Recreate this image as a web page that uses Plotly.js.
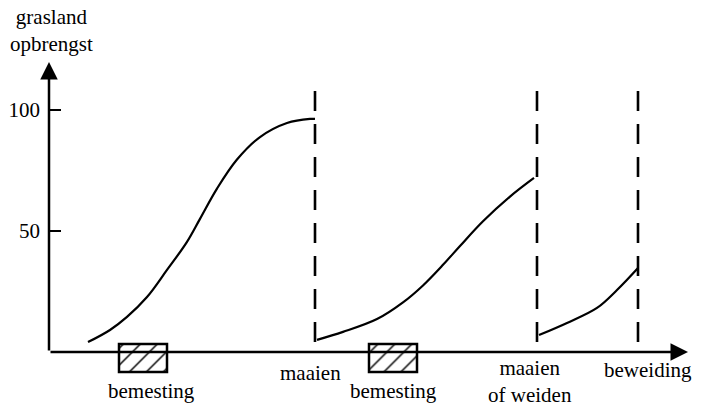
<!DOCTYPE html>
<html><head><meta charset="utf-8">
<script src="https://cdn.plot.ly/plotly-3.0.1.min.js"></script>
<style>html,body{margin:0;padding:0;background:#fff}#chart{width:701px;height:407px}</style>
</head><body><div id="chart"></div>
<script>
// x = time (arbitrary units), y = relative grassland yield
const growth1X = [3.9, 6.1, 7.8, 9.8, 11.8, 13.8, 15.1, 16.8, 18.8, 21.1, 23.8, 26.1, 26.6];
const growth1Y = [4.1, 9.1, 14.5, 22.7, 33.9, 45.5, 55.0, 67.5, 79.5, 88.8, 94.6, 96.3, 96.3];
const growth2X = [26.8, 29.4, 32.8, 35.4, 37.4, 39.4, 41.1, 43.4, 46.1, 48.5];
const growth2Y = [5.0, 8.3, 13.6, 20.5, 27.5, 36.0, 43.8, 54.0, 64.2, 71.9];
const growth3X = [49.0, 51.8, 54.8, 56.8, 58.9];
const growth3Y = [7.0, 12.0, 18.2, 25.6, 34.7];
const eventX = [26.6, 48.8, 58.9];
const eventLabels = ['maaien', 'maaien<br>of weiden', 'beweiding'];
const fertX = [9.4, 34.4];
const fertLabel = 'bemesting';
const yTicks = [50, 100];
const yTickLabels = ['50', '100'];
const yTitle = 'grasland<br>opbrengst';

const FONT = {family: 'Liberation Serif, serif', size: 21, color: '#000'};
const traces = [];
[[growth1X, growth1Y], [growth2X, growth2Y], [growth3X, growth3Y]].forEach(([x, y]) => {
  traces.push({x, y, type: 'scatter', mode: 'lines', line: {color: '#000', width: 2.2, shape: 'spline', smoothing: 1}, hoverinfo: 'skip', showlegend: false});
});
eventX.forEach(ex => {
  traces.push({x: [ex, ex], y: [4.1, 110.3], type: 'scatter', mode: 'lines', line: {color: '#000', width: 2.6, dash: '20px,13px'}, hoverinfo: 'skip', showlegend: false});
});
traces.push({
  x: fertX, y: fertX.map(() => 11.6), base: -8.3, width: 4.8, type: 'bar',
  marker: {color: '#fff', line: {color: '#000', width: 2.5},
    pattern: {shape: '/', fgcolor: '#000', bgcolor: '#fff', size: 12, solidity: 0.12}},
  hoverinfo: 'skip', showlegend: false
});

const ann = [];
// axes with arrows
ann.push({x: 0, y: 119.8, ax: 0, ay: 0, xref: 'x', yref: 'y', axref: 'x', ayref: 'y', text: '', showarrow: true, arrowhead: 2, arrowsize: 1.4, arrowwidth: 2.5, arrowcolor: '#000', standoff: 0});
ann.push({x: 63.9, y: 0, ax: 0, ay: 0, xref: 'x', yref: 'y', axref: 'x', ayref: 'y', text: '', showarrow: true, arrowhead: 2, arrowsize: 1.4, arrowwidth: 2.5, arrowcolor: '#000', standoff: 0});
ann.push({x: 0.2, y: 1.102, xref: 'x', yref: 'paper', text: yTitle, showarrow: false, font: FONT, xanchor: 'center', yanchor: 'middle'});
const evPos = [[-5, 0.006], [-7, -0.022], [10, 0.016]];
eventLabels.forEach((t, i) => {
  ann.push({x: eventX[i], y: evPos[i][1], xref: 'x', yref: 'paper', xshift: evPos[i][0], text: t, showarrow: false, font: FONT, xanchor: 'center', yanchor: 'middle'});
});
fertX.forEach((fx, i) => {
  ann.push({x: fx, y: -0.051, xref: 'x', yref: 'paper', xshift: i === 0 ? 8 : 0, text: fertLabel, showarrow: false, font: FONT, xanchor: 'center', yanchor: 'middle'});
});

const layout = {
  width: 701, height: 407,
  margin: {l: 49, r: 11, t: 62, b: 32},
  paper_bgcolor: '#fff', plot_bgcolor: '#fff',
  font: FONT,
  showlegend: false,
  bargap: 0,
  xaxis: {range: [0, 64.1], visible: false, fixedrange: true},
  yaxis: {range: [-9.5, 119.8], showgrid: false, zeroline: false, showline: false,
    ticks: 'inside', ticklen: 12, tickwidth: 2.5, tickcolor: '#000',
    tickvals: yTicks, ticktext: yTickLabels, tickfont: FONT, ticklabelstandoff: 8, fixedrange: true},
  annotations: ann
};
Plotly.newPlot('chart', traces, layout, {displayModeBar: false, staticPlot: true});
</script></body></html>
